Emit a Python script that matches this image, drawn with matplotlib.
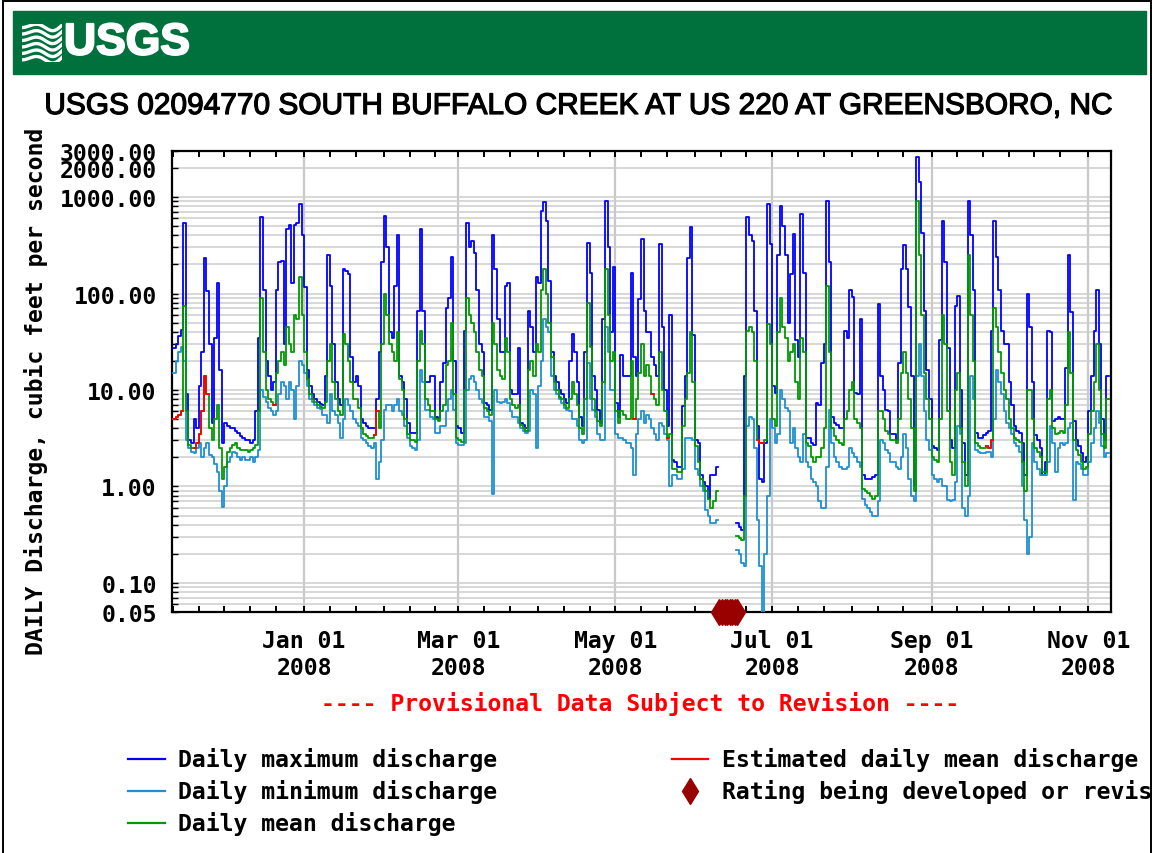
import numpy as np
import matplotlib
matplotlib.use('Agg')
import matplotlib.pyplot as plt
import matplotlib.dates as mdates
import matplotlib.patheffects as pe
from matplotlib.ticker import FixedLocator, FixedFormatter, LogLocator, NullFormatter
from matplotlib.patches import Rectangle
from matplotlib.lines import Line2D

nan = np.nan
start = np.datetime64('2007-11-11')

# daily values, cubic feet per second, one per day from Nov 11 2007
daily_max = [
    27, 30, 36, 42, 540, 9, 3.0, 2.8, 5, 4,
    11, 25, 236, 105, 30, 4.5, 35, 130, 16, 2.8,
    4.5, 4.2, 4.0, 4.0, 3.8, 3.6, 3.3, 3.2, 3.0, 3.0,
    2.8, 3.0, 6, 35, 620, 110, 20, 14, 10, 12,
    110, 210, 215, 30, 470, 510, 130, 510, 540, 840,
    400, 117, 16, 11, 9, 8, 7.5, 7.2, 7, 14,
    250, 120, 30, 12, 8, 7, 180, 170, 160, 22,
    12, 14, 11, 5, 4.5, 4.2, 4.0, 4.0, 4.0, 8,
    25, 210, 630, 300, 40, 35, 120, 400, 14, 12,
    8, 4.5, 3.6, 3.6, 3.6, 66, 470, 66, 12, 12,
    14, 14, 5.3, 5, 12, 19, 70, 90, 240, 20,
    4.2, 4, 3.6, 41, 540, 300, 350, 260, 110, 30,
    25, 7.3, 7, 6.2, 400, 180, 55, 25, 25, 120,
    130, 10, 9, 9, 27, 4.6, 4.3, 4.0, 66, 45,
    25, 147, 130, 710, 880, 560, 134, 25, 14, 12,
    10, 9, 8, 7.3, 20, 38, 25, 12, 5.3, 4.2,
    25, 334, 165, 14, 10, 6.2, 4.5, 55, 900, 300,
    40, 190, 7.3, 5.3, 23, 14, 14, 14, 165, 22,
    14, 88, 370, 66, 40, 40, 22, 18, 14, 323,
    45, 10, 4.2, 60, 1.9, 1.8, 1.6, 1.6, 6.8, 14,
    236, 490, 37, 3.0, 2.8, 1.3, 1.1, 1.0, 0.74, 1.3,
    1.3, 1.6, nan, nan, nan, nan, nan, nan, nan, 0.42,
    0.38, 0.35, 14, 620, 400, 350, 66, 4.2, 1.2, 1.1,
    2.8, 840, 323, 11, 9.3, 250, 800, 500, 250, 50,
    160, 410, 33, 22, 670, 165, 3.2, 3.2, 2.8, 2.7,
    7.3, 7, 19, 30, 900, 210, 5.3, 4.6, 4.3, 4,
    4, 41, 35, 110, 92, 9.3, 9, 55, 1.3, 1.2,
    1.2, 1.2, 1.25, 1.3, 78, 14, 10, 6.2, 6, 3.5,
    3.5, 3.0, 19, 180, 320, 180, 72, 14, 1.0, 2600,
    1440, 420, 66, 16, 8, 2.6, 2.5, 2.4, 33, 560,
    210, 27, 3.0, 2.5, 75, 95, 10, 2.8, 1.3, 900,
    400, 110, 3.6, 3.2, 3.2, 3.4, 3.6, 3.8, 41, 560,
    240, 110, 41, 30, 30, 12, 7, 4.2, 3.8, 3.6,
    2.8, 1.3, 100, 45, 12, 3.4, 3.0, 2.5, 1.3, 1.8,
    41, 40, 4.8, 5, 5.2, 5, 5, 17, 250, 65,
    4.8, 3.0, 2.6, 2.2, 1.8, 2.0, 6, 14, 41, 110,
    30, 5, 3.0, 14,
]
daily_mean = [
    5, 5.2, 5.5, 6, 75, 6, 2.7, 2.5, 2.5, 2.8,
    3.5, 6, 14, 9, 4, 3, 5, 7, 2.5, 1.2,
    1.6, 2.3, 2.5, 2.7, 2.8, 2.5, 2.4, 2.4, 2.4, 2.3,
    2.4, 2.5, 2.7, 6, 90, 25, 10, 8, 7.5, 7,
    15, 20, 25, 18, 45, 30, 25, 60, 55, 150,
    60, 25, 13, 9, 8, 7.5, 7, 6.7, 6.5, 7.5,
    20, 30, 12, 8, 6, 5.5, 38, 30, 20, 12,
    8, 8, 6.5, 4, 3.5, 3.3, 3.2, 3.2, 3.4, 6,
    4, 30, 100, 60, 30, 25, 20, 40, 13, 10,
    5, 3.5, 3.0, 3.0, 2.9, 20, 41, 30, 8, 7,
    6, 6, 5, 4.8, 6, 7, 18, 20, 50, 9,
    3.2, 3.0, 2.9, 10, 90, 60, 50, 40, 25, 16,
    14, 6.5, 6, 5.5, 50, 30, 16, 14, 13, 35,
    25, 8, 7, 6.5, 7, 4.3, 4.0, 3.8, 16, 20,
    14, 30, 25, 110, 180, 100, 50, 22, 12, 10,
    8.5, 8, 7, 6.5, 8, 12, 9, 7, 4, 3.5,
    8, 80, 28, 8, 6, 4.8, 4.2, 12, 180, 60,
    20, 25, 6, 4.5, 6, 5.5, 5, 5, 20, 5,
    8, 15, 30, 14, 18, 14, 9, 8, 7, 25,
    10, 6, 3.2, 3.5, 1.5, 1.5, 1.4, 1.4, 4.2, 8,
    15, 40, 12, 2.6, 1.8, 1.2, 1.0, 0.9, 0.75, 0.6,
    0.7, 0.9, nan, nan, nan, nan, nan, nan, nan, 0.31,
    0.29, 0.28, 0.8, 41, 45, 40, 20, 3, 2.8, 2.8,
    3.0, 48, 30, 5, 4.2, 40, 90, 45, 35, 20,
    25, 30, 12, 8, 35, 25, 2.8, 2.6, 2.0, 1.8,
    2.0, 2.0, 2.5, 4, 120, 25, 4, 3.3, 3.0, 2.8,
    2.7, 5, 6, 10, 12, 5, 4.5, 4, 0.95, 0.9,
    0.85, 0.8, 0.75, 0.8, 6, 6, 5, 3.8, 3.5, 3.0,
    3.0, 2.8, 5, 15, 25, 15, 8, 4, 0.9, 900,
    250, 60, 15, 8, 5, 2.0, 1.9, 1.8, 5, 60,
    30, 6, 1.8, 1.3, 10, 15, 4, 1.8, 1.0, 250,
    60, 20, 2.8, 2.6, 2.5, 2.5, 2.6, 2.5, 3, 70,
    45, 25, 15, 10, 8, 5, 4, 3.2, 3.0, 2.9,
    1.8, 0.9, 10, 10, 5, 2.5, 2.3, 2.0, 1.4, 1.4,
    8, 10, 4, 3.5, 3.6, 3.8, 3.6, 7, 40, 15,
    3.0, 2.4, 2.1, 1.8, 1.5, 1.6, 3.5, 6, 12, 30,
    10, 3.5, 2.5, 8,
]
daily_min = [
    15, 20, 25, 28, 20, 3.0, 2.5, 2.3, 2.2, 2.5,
    2.8, 2.0, 2.5, 2.8, 2.1, 2.0, 1.7, 1.4, 0.9, 0.62,
    1.0, 1.8, 2.0, 2.3, 2.2, 2.0, 1.9, 2.0, 1.9, 1.9,
    2.0, 1.8, 2.0, 2.4, 10, 8.5, 7.5, 6.5, 6, 5.5,
    6, 9, 12, 11, 8, 12, 10, 5, 11, 20,
    18, 15, 11, 8, 7.5, 7, 6.5, 6.3, 5.5, 5.5,
    4.5, 9, 6, 5.5, 4.5, 3.2, 5, 8, 7, 6,
    5, 4.5, 4.2, 3.2, 3.0, 2.8, 2.6, 2.5, 2.8, 1.2,
    1.8, 3.0, 6.2, 7, 7, 6, 7, 8, 6, 5.5,
    4.2, 3.2, 2.6, 2.5, 2.4, 3, 16, 12, 6.2, 6.2,
    5.3, 5, 3.6, 3.6, 4.2, 4.2, 6, 8, 10, 6.2,
    2.8, 2.7, 2.7, 2.8, 10, 13, 14, 12, 10, 8,
    7.3, 5.3, 5.3, 4.8, 0.83, 10, 7.5, 7.3, 7.5, 8,
    7.3, 6, 5.3, 5.3, 4.5, 4.0, 3.8, 3.6, 3.8, 10,
    9, 2.5, 11, 20, 55, 45, 40, 14, 10, 9,
    8, 7.3, 6.5, 6.2, 6, 5, 5, 4.2, 3, 2.8,
    3, 19, 8, 6.2, 5.3, 3.5, 3.0, 3.0, 45, 25,
    10, 10, 3.5, 3.2, 3.2, 3.0, 2.8, 2.8, 2.5, 1.3,
    3.5, 5, 6, 4.5, 5.5, 5, 4, 3.5, 3.0, 4.5,
    4.2, 3.5, 3.0, 1.0, 1.3, 1.3, 1.2, 1.2, 1.5, 3.2,
    3.2, 3.2, 3.0, 1.5, 1.3, 1.0, 0.9, 0.57, 0.5, 0.42,
    0.42, 0.45, nan, nan, nan, nan, nan, nan, nan, 0.22,
    0.2, 0.16, 0.15, 4.2, 5.3, 5, 2.5, 0.45, 0.15, 0.04,
    0.2, 0.8, 5, 4, 2.8, 3.5, 10, 8, 6.5, 6,
    2.8, 4, 2.5, 2.0, 1.8, 3.5, 1.8, 1.6, 1.2, 1.1,
    1.0, 0.7, 0.6, 0.6, 1.6, 6.2, 2.8, 2.0, 1.8, 1.6,
    1.5, 1.5, 1.6, 2.5, 2.2, 2.0, 1.8, 1.6, 0.75, 0.65,
    0.6, 0.55, 0.5, 0.5, 0.7, 3.0, 2.8, 2.4, 2.2, 1.8,
    1.8, 1.6, 1.5, 2.0, 3.5, 2.5, 1.2, 0.8, 0.7, 14,
    30, 14, 6, 3, 2.4, 1.3, 1.2, 1.1, 1.2, 1.0,
    1.0, 0.72, 0.7, 0.72, 1.1, 4.2, 3.5, 0.6, 0.5, 0.8,
    14, 8, 2.4, 2.3, 2.2, 2.2, 2.3, 2.3, 2.0, 5,
    16, 12, 9, 6, 4.5, 4, 3.5, 2.8, 2.6, 2.3,
    1.0, 0.45, 0.2, 0.3, 2.8, 1.8, 1.5, 1.3, 1.3, 1.3,
    1.8, 4.2, 2.8, 1.4, 2.5, 2.8, 2.7, 2.8, 4, 4.5,
    0.72, 1.8, 1.7, 1.5, 1.3, 1.3, 1.8, 2.8, 4, 6,
    4.5, 2.6, 2.0, 2.2,
]
# days (index from Nov 11 2007) where the mean is estimated
estimated_days = [0, 1, 2, 3, 8, 9, 10, 11, 12, 13, 39, 78, 79, 179, 186, 192,
                  227, 228, 229, 316, 317, 318]
rating_days = [212, 213, 214, 215, 216, 217, 218, 219]

y_ticks = [0.05, 0.1, 1, 10, 100, 1000, 2000, 3000]
y_labels = ['0.05', '0.10', '1.00', '10.00', '100.00', '1000.00', '2000.00', '3000.00']

title = 'USGS 02094770 SOUTH BUFFALO CREEK AT US 220 AT GREENSBORO, NC'

W, H = 1156, 854
mono = 'DejaVu Sans Mono'
fs = 16.7
blue, ltblue, green, red, dkred = '#0000ff', '#1e90d2', '#009a00', '#ff0000', '#990000'

fig = plt.figure(figsize=(W / 100, H / 100), dpi=100)


def fx(x):
    return x / W


def fy(y):
    return 1 - y / H


# banner
fig.patches.append(Rectangle((fx(13), fy(75)), fx(1146) - fx(13), fy(12) - fy(75),
                             transform=fig.transFigure, color='#00703c', zorder=1))
fig.text(fx(64), fy(44), 'USGS', color='white', fontsize=32, fontweight='bold',
         family='Liberation Sans', ha='left', va='center', zorder=3,
         path_effects=[pe.withStroke(linewidth=1.5, foreground='white')])

# logo waves
lax = fig.add_axes([fx(22), fy(63), fx(62) - fx(22), fy(25) - fy(63)])
lax.set_zorder(3)
lax.set_xlim(0, 1)
lax.set_ylim(0, 1)
lax.axis('off')
t = np.linspace(0, 1, 50)
for k in range(6):
    base = 0.08 + k * 0.17
    lax.plot(t, base + 0.1 * np.sin(2 * np.pi * (t * 1.2 - 0.15)) * (0.3 + t), color='white', lw=2.4)

fig.text(fx(578), fy(107), title, ha='center', va='center', fontsize=21.5,
         family='Liberation Sans',
         path_effects=[pe.withStroke(linewidth=0.9, foreground='black')])

ax = fig.add_axes([fx(172), fy(613), fx(1111) - fx(172), fy(152) - fy(613)])


def stepvals(v):
    v = np.array(v, dtype=float)
    return np.append(v, v[-1])


n = len(daily_max)
edges = start + np.arange(n + 1)

ax.plot(edges, stepvals(daily_max), drawstyle='steps-post', color=blue, lw=1.3, zorder=3)
ax.plot(edges, stepvals(daily_min), drawstyle='steps-post', color=ltblue, lw=1.3, zorder=4)
ax.plot(edges, stepvals(daily_mean), drawstyle='steps-post', color=green, lw=1.3, zorder=5)

# estimated mean in red, run by run
runs = []
for d in estimated_days:
    if runs and d == runs[-1][-1] + 1:
        runs[-1].append(d)
    else:
        runs.append([d])
for r in runs:
    vals = [daily_mean[d] for d in r]
    ax.plot(edges[r[0]:r[-1] + 2], stepvals(vals), drawstyle='steps-post', color=red, lw=1.3, zorder=6)

# rating diamonds at bottom edge
rx = start + np.array(rating_days) + np.timedelta64(12, 'h')
ax.plot(rx, np.zeros(len(rx)), 'd', color=dkred, ms=13, transform=ax.get_xaxis_transform(),
        clip_on=False, zorder=7)

ax.set_yscale('log')
ax.set_ylim(0.05, 3000)
ax.set_xlim(np.datetime64('2007-11-10T15:00'), np.datetime64('2008-11-09T19:00'))

ax.yaxis.set_major_locator(FixedLocator(y_ticks))
ax.yaxis.set_major_formatter(FixedFormatter(y_labels))
ax.yaxis.set_minor_locator(LogLocator(base=10, subs=np.arange(2, 10), numticks=30))
ax.yaxis.set_minor_formatter(NullFormatter())

ax.xaxis.set_major_locator(mdates.MonthLocator(bymonth=[1, 3, 5, 7, 9, 11]))
ax.xaxis.set_major_formatter(mdates.DateFormatter('%b %d\n%Y'))
ax.xaxis.set_minor_locator(mdates.DayLocator(bymonthday=[1, 11, 21]))

ax.set_axisbelow(True)
ax.xaxis.grid(True, which='major', color='#c8c8c8', lw=1.6)
ax.yaxis.grid(True, which='both', color='#cdcdcd', lw=1.1)

ax.tick_params(axis='x', which='both', direction='in', top=True, bottom=True,
               length=4, width=1.4, pad=12, labelsize=fs)
ax.tick_params(axis='y', which='both', direction='in', left=True, right=False,
               length=4, width=1.0, pad=11, labelsize=fs)
for lbl in ax.get_xticklabels() + ax.get_yticklabels():
    lbl.set_family(mono)
    lbl.set_fontweight('bold')
for lbl in ax.get_xticklabels():
    lbl.set_linespacing(1.25)
for s in ax.spines.values():
    s.set_linewidth(1.6)

fig.text(fx(36), fy(391), 'DAILY Discharge, cubic feet per second', rotation=90,
         ha='center', va='center', family=mono, fontweight='bold', fontsize=fs)
fig.text(fx(640), fy(704), '---- Provisional Data Subject to Revision ----', color=red,
         ha='center', va='center', family=mono, fontweight='bold', fontsize=fs)

# legend
legend_left = [(blue, 'Daily maximum discharge', 760),
               (ltblue, 'Daily minimum discharge', 792),
               (green, 'Daily mean discharge', 824)]
for c, txt, y in legend_left:
    fig.lines.append(Line2D([fx(128), fx(165)], [fy(y), fy(y)], color=c, lw=1.6,
                            transform=fig.transFigure))
    fig.text(fx(178), fy(y), txt, ha='left', va='center', family=mono,
             fontweight='bold', fontsize=fs)
fig.lines.append(Line2D([fx(672), fx(708)], [fy(760), fy(760)], color=red, lw=1.6,
                        transform=fig.transFigure))
fig.text(fx(722), fy(760), 'Estimated daily mean discharge', ha='left', va='center',
         family=mono, fontweight='bold', fontsize=fs)
fig.lines.append(Line2D([fx(690)], [fy(792)], marker='d', ms=13, color=dkred,
                        transform=fig.transFigure))
fig.text(fx(722), fy(792), 'Rating being developed or revised', ha='left', va='center',
         family=mono, fontweight='bold', fontsize=fs, zorder=3)

# page frame, right side cut
fig.patches.append(Rectangle((fx(1151), 0), 1 - fx(1151), 1, transform=fig.transFigure,
                             color='white', zorder=20))
fig.patches.append(Rectangle((fx(3), -0.01), fx(1151) - fx(3), fy(2) + 0.01, transform=fig.transFigure,
                             fill=False, edgecolor='black', lw=1.4, zorder=21))

fig.savefig('out.png', dpi=100)
